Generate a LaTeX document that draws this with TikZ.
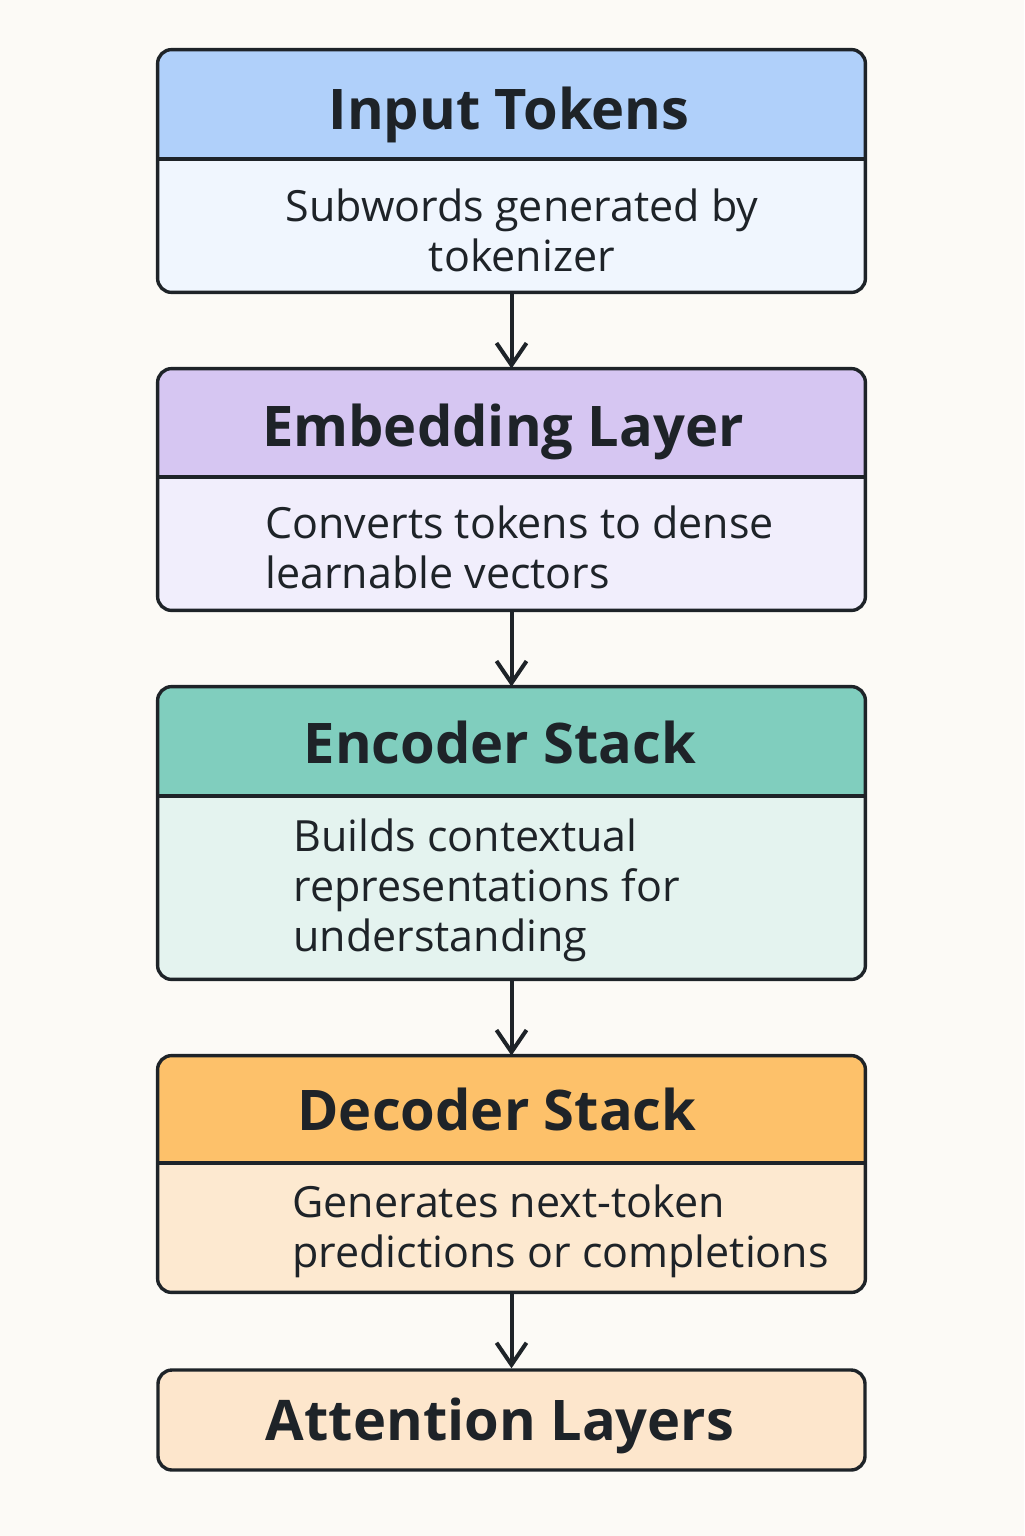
\documentclass[tikz,border=0pt]{standalone}
\usepackage{fontspec}
\setmainfont{Open Sans}
\usetikzlibrary{arrows.meta,positioning,fit}
\usepackage{xcolor}
\definecolor{paper}{HTML}{FCFAF6}
\definecolor{ink}{HTML}{1E2328}
\definecolor{headA}{HTML}{B0D0FA}
\definecolor{bodyA}{HTML}{F0F6FE}
\definecolor{headB}{HTML}{D6C6F2}
\definecolor{bodyB}{HTML}{F1EEFC}
\definecolor{headC}{HTML}{80CEBE}
\definecolor{bodyC}{HTML}{E4F3EF}
\definecolor{headD}{HTML}{FDC16A}
\definecolor{bodyD}{HTML}{FDE9D0}
\definecolor{bodyE}{HTML}{FDE6CC}
\newcommand{\boxr}{7pt}
\tikzset{
  stagebox/.style={inner sep=0pt, rounded corners=\boxr},
  boxline/.style={draw=ink, line width=1.7pt},
  title/.style={text=ink, font=\fontsize{28}{34}\selectfont\bfseries},
  body/.style={text=ink, inner sep=0pt, font=\fontsize{21.5}{25}\selectfont},
  flow/.style={draw=ink, line width=2pt, -{Straight Barb[length=11pt,width=15pt]}}
}
% name, top, divider, bottom, head colour, body colour
\newcommand{\stage}[6]{
  \node[stagebox, fill=#6, fit={(158,#2) (865,#4)}] (#1) {};
  \begin{scope}
    \clip[rounded corners=\boxr] (#1.north west) rectangle (#1.south east);
    \fill[#5] (#1.north west) rectangle (865,#3);
  \end{scope}
  \draw[boxline] (158,#3) -- (865,#3);
  \draw[boxline, rounded corners=\boxr] (#1.north west) rectangle (#1.south east);
}

\begin{document}
\begin{tikzpicture}[x=0.5pt,y=-0.5pt]
    \fill[paper] (0,0) rectangle (1024,1536);
    \useasboundingbox (0,0) rectangle (1024,1536);
    \stage{tokens}{50}{159}{292}{headA}{bodyA};
    \stage{embed}{369}{477}{610}{headB}{bodyB};
    \stage{encoder}{687}{796}{979}{headC}{bodyC};
    \stage{decoder}{1056}{1163}{1292}{headD}{bodyD};
    \node[stagebox, boxline, fill=bodyE, fit={(158,1370) (865,1470)}] (attn) {};
    % titles
    \node[title, anchor=base] (tokensT) at (509,130) {Input Tokens};
    \node[title, anchor=base] (embedT) at (503,446) {Embedding Layer};
    \node[title, anchor=base] (encoderT) at (500,763) {Encoder Stack};
    \node[title, anchor=base] (decoderT) at (497,1130) {Decoder Stack};
    \node[title, anchor=base] (attnT) at (500,1440) {Attention Layers};
    % descriptions
    \node[body, align=center] (tokensD) at (522,230) {Subwords generated by\\tokenizer};
    \node[body, align=left, anchor=west] (embedD) at (265,547) {Converts tokens to dense\\learnable vectors};
    \node[body, align=left, anchor=west] (encoderD) at (293,890) {Builds contextual\\representations for\\understanding};
    \node[body, align=left, anchor=west] (decoderD) at (292,1231) {Generates next-token\\predictions or completions};
    % connectors
    \draw[flow] (tokens.south) -- (embed.north);
    \draw[flow] (embed.south) -- (encoder.north);
    \draw[flow] (encoder.south) -- (decoder.north);
    \draw[flow] (decoder.south) -- (attn.north);
\end{tikzpicture}
\end{document}
